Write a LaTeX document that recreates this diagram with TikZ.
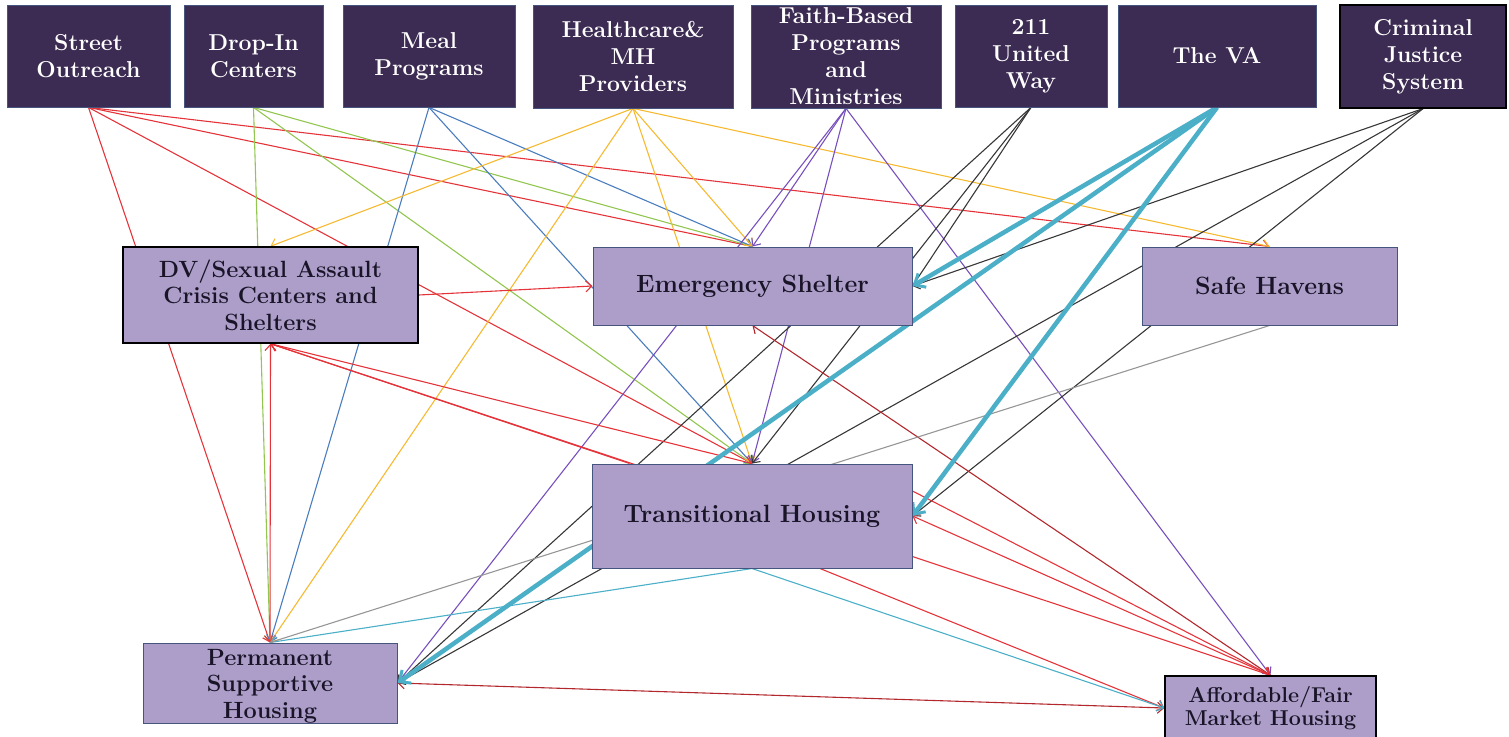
\documentclass[tikz,border=0pt]{standalone}
\usepackage{fontspec}
\usetikzlibrary{arrows.meta,calc}
\pgfdeclarelayer{bg}
\pgfsetlayers{bg,main}
\definecolor{topfill}{RGB}{60,43,82}
\definecolor{boxfill}{RGB}{172,158,200}
\definecolor{boxline}{RGB}{70,85,125}
\definecolor{cred}{RGB}{228,52,58}
\definecolor{cdred}{RGB}{178,40,45}
\definecolor{cgreen}{RGB}{146,198,80}
\definecolor{cblue}{RGB}{74,125,190}
\definecolor{cyellow}{RGB}{246,186,50}
\definecolor{cpurple}{RGB}{120,80,190}
\definecolor{cdark}{RGB}{55,55,55}
\definecolor{cgray}{RGB}{150,150,150}
\definecolor{ccyan}{RGB}{75,175,200}
\definecolor{tdark}{RGB}{25,20,40}
\tikzset{
  topbox/.style={draw=boxline, fill=topfill, text=white, font=\bfseries\fontsize{23}{27}\selectfont, align=center, inner sep=0pt, line width=0.8pt},
  midbox/.style={draw=boxline, fill=boxfill, text=tdark, font=\bfseries\fontsize{23.5}{26.5}\selectfont, align=center, inner sep=0pt, line width=1pt},
  midtext/.style={text=tdark, font=\bfseries\fontsize{23.5}{26.5}\selectfont, align=center, inner sep=0pt},
  bigtext/.style={font=\bfseries\fontsize{25}{28}\selectfont},
  conn/.style={line width=1.1pt, -{Straight Barb[length=6pt,width=11pt]}},
  conntwo/.style={line width=1.1pt, {Straight Barb[length=6pt,width=11pt]}-{Straight Barb[length=6pt,width=11pt]}},
  thick conn/.style={line width=4.5pt, -{Straight Barb[length=9pt,width=16pt,line width=3pt]}}
}
\begin{document}
\begin{tikzpicture}[x=1pt,y=-1pt]
\useasboundingbox (0,0) rectangle (1509,736);
% top row
\node[topbox, minimum width=163pt, minimum height=102pt] (so) at (88.5,56) {Street\\Outreach};
\node[topbox, minimum width=139pt, minimum height=102pt] (di) at (253.5,56) {Drop-In\\Centers};
\node[topbox, minimum width=172pt, minimum height=102pt] (mp) at (429,56) {Meal\\Programs};
\node[topbox, minimum width=200pt, minimum height=103pt] (hc) at (633,56.5) {Healthcare\&\\MH\\Providers};
\node[topbox, minimum width=190pt, minimum height=103pt] (fb) at (846,56.5) {Faith-Based\\Programs\\and\\Ministries};
\node[topbox, minimum width=152pt, minimum height=102pt] (uw) at (1031,56) {211\\United\\Way};
\node[topbox, minimum width=198pt, minimum height=102pt] (va) at (1217,56) {The VA};
\node[topbox, draw=black, line width=1.2pt, minimum width=166pt, minimum height=103pt] (cj) at (1423,56.5) {Criminal\\Justice\\System};
% middle and lower
\node[midbox, draw=black, line width=1.5pt, minimum width=295pt, minimum height=96pt] (dv) at (270.5,295) {DV/Sexual Assault\\Crisis Centers and\\Shelters};
\node[midbox, bigtext, minimum width=319pt, minimum height=78pt] (es) at (752.5,286) {Emergency Shelter};
\node[midbox, bigtext, minimum width=255pt, minimum height=78pt] (sh) at (1269.5,286) {Safe Havens};
\node[midbox, bigtext, minimum width=320pt, minimum height=104pt] (th) at (752,516) {Transitional Housing};
\node[midbox, minimum width=254pt, minimum height=80pt] (psh) at (270,683) {};
\node[midtext] (psht) at ($(psh.center)+(0,3)$) {Permanent\\Supportive\\Housing};
\node[midbox, draw=black, line width=1.5pt, font=\bfseries\fontsize{21.5}{23}\selectfont, minimum width=211pt, minimum height=64pt] (aff) at (1270.5,708) {Affordable/Fair\\Market Housing};
\coordinate (thtl) at ($(th.north west)+(38,0)$);
\coordinate (thr) at ($(th.east)+(0,-25)$);
\coordinate (thb) at ($(th.south)+(68,0)$);
\begin{pgfonlayer}{bg}
% Street Outreach
\draw[conn, cred] (so.south) -- (psh.north);
\draw[conn, cred] (so.south) -- (th.north);
\draw[conn, cred] (so.south) -- (es.north);
\draw[conn, cred] (so.south) -- (sh.north);
% Drop-In
\draw[conn, cgreen] (di.south) -- (psh.north);
\draw[conn, cgreen] (di.south) -- (es.north);
\draw[conn, cgreen] (di.south) -- (th.north);
% Meal
\draw[conn, cblue] (mp.south) -- (psh.north);
\draw[conn, cblue] (mp.south) -- (th.north);
\draw[conn, cblue] (mp.south) -- (es.north);
% Healthcare
\draw[conn, cyellow] (hc.south) -- (dv.north);
\draw[conn, cyellow] (hc.south) -- (psh.north);
\draw[conn, cyellow] (hc.south) -- (th.north);
\draw[conn, cyellow] (hc.south) -- (es.north);
\draw[conn, cyellow] (hc.south) -- (sh.north);
% Faith-Based
\draw[conn, cpurple] (fb.south) -- (es.north);
\draw[conn, cpurple] (fb.south) -- (th.north);
\draw[conn, cpurple] (fb.south) -- (psh.east);
\draw[conn, cpurple] (fb.south) -- (aff.north);
% 211
\draw[conn, cdark] (uw.south) -- (es.east);
\draw[conn, cdark] (uw.south) -- (th.north);
\draw[conn, cdark] (uw.south) -- (psh.east);
% Criminal Justice
\draw[conn, cdark] (cj.south) -- (es.east);
\draw[conn, cdark] (cj.south) -- (th.east);
\draw[conn, cdark] (cj.south) -- (psh.east);
% lower relations
\draw[conn, cred] (dv.east) -- (es.west);
\draw[conntwo, cred] (dv.south) -- (psh.north);
\draw[conn, cred] (dv.south) -- (th.north);
\draw[conn, cred] (thtl) -- (dv.south);
\draw[conntwo, cred] (aff.north) -- (dv.south);
\draw[conntwo, cdred] (es.south) -- (aff.north);
\draw[conntwo, cred] (th.east) -- (aff.north);
\draw[conn, cred] (thr) -- (aff.north);
\draw[conn, cred] (thb) -- (aff.west);
\draw[conntwo, cdred] (psh.east) -- (aff.west);
\draw[conn, ccyan] (th.south) -- (psh.north);
\draw[conn, ccyan] (th.south) -- (aff.west);
\draw[conn, cgray] (sh.south) -- (psh.north);
% The VA
\draw[thick conn, ccyan] (va.south) -- (es.east);
\draw[thick conn, ccyan] (va.south) -- (th.east);
\draw[thick conn, ccyan] (va.south) -- (psh.east);
\end{pgfonlayer}
\end{tikzpicture}
\end{document}
